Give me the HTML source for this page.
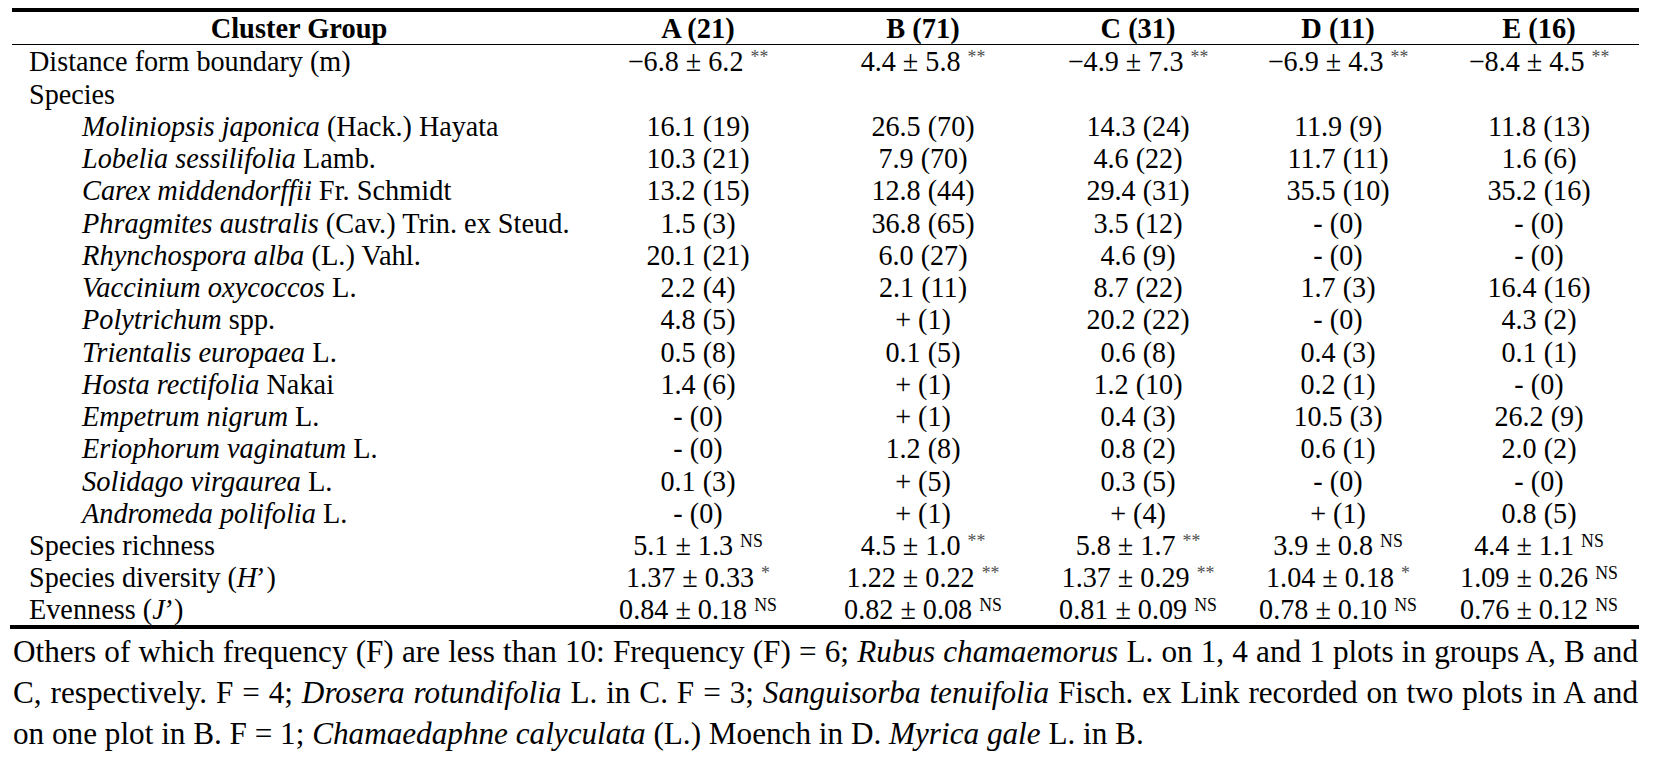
<!DOCTYPE html>
<html><head><meta charset="utf-8"><style>
html,body{margin:0;padding:0;background:#fff;}
body{width:1656px;height:758px;position:relative;overflow:hidden;font-family:"Liberation Serif",serif;color:#000;}
.r{position:absolute;white-space:nowrap;font-size:28.5px;line-height:32px;height:32px;transform:scaleX(0.9825);transform-origin:0 0;}
.c{position:absolute;white-space:nowrap;font-size:28.5px;line-height:32px;height:32px;width:300px;text-align:center;transform:scaleX(0.9875);transform-origin:50% 0;}
.c.h{transform:scaleX(0.997);}
.h{font-weight:bold;}
sup.ast{color:#505050;}
sup{font-size:18px;line-height:0;vertical-align:baseline;position:relative;top:-8px;}
.line{position:absolute;background:#000;}
.fn{position:absolute;left:13px;width:1625px;font-size:31.2px;line-height:41px;height:41px;white-space:nowrap;}
.j{text-align:justify;text-align-last:justify;white-space:normal;}
</style></head><body>

<div class="line" style="left:12px;top:8px;width:1627px;height:4px"></div>
<div class="line" style="left:12px;top:44px;width:1627px;height:1px"></div>
<div class="line" style="left:10px;top:625px;width:1629px;height:4px"></div>
<div class="c h" style="left:149.0px;top:13.0px">Cluster Group</div>
<div class="c h" style="left:548.0px;top:13.0px">A (21)</div>
<div class="c h" style="left:773.0px;top:13.0px">B (71)</div>
<div class="c h" style="left:988.0px;top:13.0px">C (31)</div>
<div class="c h" style="left:1188.0px;top:13.0px">D (11)</div>
<div class="c h" style="left:1388.5px;top:13.0px">E (16)</div>
<div class="r" style="left:29.0px;top:46.30px;transform:scaleX(0.9887)">Distance form boundary (m)</div>
<div class="c" style="left:548.0px;top:46.30px">−6.8 ± 6.2 <sup class="ast">**</sup></div>
<div class="c" style="left:773.0px;top:46.30px">4.4 ± 5.8 <sup class="ast">**</sup></div>
<div class="c" style="left:988.0px;top:46.30px">−4.9 ± 7.3 <sup class="ast">**</sup></div>
<div class="c" style="left:1188.0px;top:46.30px">−6.9 ± 4.3 <sup class="ast">**</sup></div>
<div class="c" style="left:1388.5px;top:46.30px">−8.4 ± 4.5 <sup class="ast">**</sup></div>
<div class="r" style="left:29.0px;top:78.55px;transform:scaleX(0.9884)">Species</div>
<div class="r" style="left:82.0px;top:110.80px;transform:scaleX(0.9853)"><i>Moliniopsis japonica</i> (Hack.) Hayata</div>
<div class="c" style="left:548.0px;top:110.80px">16.1 (19)</div>
<div class="c" style="left:773.0px;top:110.80px">26.5 (70)</div>
<div class="c" style="left:988.0px;top:110.80px">14.3 (24)</div>
<div class="c" style="left:1188.0px;top:110.80px">11.9 (9)</div>
<div class="c" style="left:1388.5px;top:110.80px">11.8 (13)</div>
<div class="r" style="left:82.0px;top:143.05px;transform:scaleX(0.9897)"><i>Lobelia sessilifolia</i> Lamb.</div>
<div class="c" style="left:548.0px;top:143.05px">10.3 (21)</div>
<div class="c" style="left:773.0px;top:143.05px">7.9 (70)</div>
<div class="c" style="left:988.0px;top:143.05px">4.6 (22)</div>
<div class="c" style="left:1188.0px;top:143.05px">11.7 (11)</div>
<div class="c" style="left:1388.5px;top:143.05px">1.6 (6)</div>
<div class="r" style="left:82.0px;top:175.30px;transform:scaleX(0.9952)"><i>Carex middendorffii</i> Fr. Schmidt</div>
<div class="c" style="left:548.0px;top:175.30px">13.2 (15)</div>
<div class="c" style="left:773.0px;top:175.30px">12.8 (44)</div>
<div class="c" style="left:988.0px;top:175.30px">29.4 (31)</div>
<div class="c" style="left:1188.0px;top:175.30px">35.5 (10)</div>
<div class="c" style="left:1388.5px;top:175.30px">35.2 (16)</div>
<div class="r" style="left:82.0px;top:207.55px;transform:scaleX(0.9936)"><i>Phragmites australis</i> (Cav.) Trin. ex Steud.</div>
<div class="c" style="left:548.0px;top:207.55px">1.5 (3)</div>
<div class="c" style="left:773.0px;top:207.55px">36.8 (65)</div>
<div class="c" style="left:988.0px;top:207.55px">3.5 (12)</div>
<div class="c" style="left:1188.0px;top:207.55px">- (0)</div>
<div class="c" style="left:1388.5px;top:207.55px">- (0)</div>
<div class="r" style="left:82.0px;top:239.80px;transform:scaleX(0.9995)"><i>Rhynchospora alba</i> (L.) Vahl.</div>
<div class="c" style="left:548.0px;top:239.80px">20.1 (21)</div>
<div class="c" style="left:773.0px;top:239.80px">6.0 (27)</div>
<div class="c" style="left:988.0px;top:239.80px">4.6 (9)</div>
<div class="c" style="left:1188.0px;top:239.80px">- (0)</div>
<div class="c" style="left:1388.5px;top:239.80px">- (0)</div>
<div class="r" style="left:82.0px;top:272.05px;transform:scaleX(0.9998)"><i>Vaccinium oxycoccos</i> L.</div>
<div class="c" style="left:548.0px;top:272.05px">2.2 (4)</div>
<div class="c" style="left:773.0px;top:272.05px">2.1 (11)</div>
<div class="c" style="left:988.0px;top:272.05px">8.7 (22)</div>
<div class="c" style="left:1188.0px;top:272.05px">1.7 (3)</div>
<div class="c" style="left:1388.5px;top:272.05px">16.4 (16)</div>
<div class="r" style="left:82.0px;top:304.30px;transform:scaleX(0.9919)"><i>Polytrichum</i> spp.</div>
<div class="c" style="left:548.0px;top:304.30px">4.8 (5)</div>
<div class="c" style="left:773.0px;top:304.30px">+ (1)</div>
<div class="c" style="left:988.0px;top:304.30px">20.2 (22)</div>
<div class="c" style="left:1188.0px;top:304.30px">- (0)</div>
<div class="c" style="left:1388.5px;top:304.30px">4.3 (2)</div>
<div class="r" style="left:82.0px;top:336.55px;transform:scaleX(1.0004)"><i>Trientalis europaea</i> L.</div>
<div class="c" style="left:548.0px;top:336.55px">0.5 (8)</div>
<div class="c" style="left:773.0px;top:336.55px">0.1 (5)</div>
<div class="c" style="left:988.0px;top:336.55px">0.6 (8)</div>
<div class="c" style="left:1188.0px;top:336.55px">0.4 (3)</div>
<div class="c" style="left:1388.5px;top:336.55px">0.1 (1)</div>
<div class="r" style="left:82.0px;top:368.80px;transform:scaleX(0.9928)"><i>Hosta rectifolia</i> Nakai</div>
<div class="c" style="left:548.0px;top:368.80px">1.4 (6)</div>
<div class="c" style="left:773.0px;top:368.80px">+ (1)</div>
<div class="c" style="left:988.0px;top:368.80px">1.2 (10)</div>
<div class="c" style="left:1188.0px;top:368.80px">0.2 (1)</div>
<div class="c" style="left:1388.5px;top:368.80px">- (0)</div>
<div class="r" style="left:82.0px;top:401.05px;transform:scaleX(0.9897)"><i>Empetrum nigrum</i> L.</div>
<div class="c" style="left:548.0px;top:401.05px">- (0)</div>
<div class="c" style="left:773.0px;top:401.05px">+ (1)</div>
<div class="c" style="left:988.0px;top:401.05px">0.4 (3)</div>
<div class="c" style="left:1188.0px;top:401.05px">10.5 (3)</div>
<div class="c" style="left:1388.5px;top:401.05px">26.2 (9)</div>
<div class="r" style="left:82.0px;top:433.30px;transform:scaleX(0.9903)"><i>Eriophorum vaginatum</i> L.</div>
<div class="c" style="left:548.0px;top:433.30px">- (0)</div>
<div class="c" style="left:773.0px;top:433.30px">1.2 (8)</div>
<div class="c" style="left:988.0px;top:433.30px">0.8 (2)</div>
<div class="c" style="left:1188.0px;top:433.30px">0.6 (1)</div>
<div class="c" style="left:1388.5px;top:433.30px">2.0 (2)</div>
<div class="r" style="left:82.0px;top:465.55px;transform:scaleX(1.0003)"><i>Solidago virgaurea</i> L.</div>
<div class="c" style="left:548.0px;top:465.55px">0.1 (3)</div>
<div class="c" style="left:773.0px;top:465.55px">+ (5)</div>
<div class="c" style="left:988.0px;top:465.55px">0.3 (5)</div>
<div class="c" style="left:1188.0px;top:465.55px">- (0)</div>
<div class="c" style="left:1388.5px;top:465.55px">- (0)</div>
<div class="r" style="left:82.0px;top:497.80px;transform:scaleX(0.9923)"><i>Andromeda polifolia</i> L.</div>
<div class="c" style="left:548.0px;top:497.80px">- (0)</div>
<div class="c" style="left:773.0px;top:497.80px">+ (1)</div>
<div class="c" style="left:988.0px;top:497.80px">+ (4)</div>
<div class="c" style="left:1188.0px;top:497.80px">+ (1)</div>
<div class="c" style="left:1388.5px;top:497.80px">0.8 (5)</div>
<div class="r" style="left:29.0px;top:530.05px;transform:scaleX(0.9911)">Species richness</div>
<div class="c" style="left:548.0px;top:530.05px">5.1 ± 1.3 <sup>NS</sup></div>
<div class="c" style="left:773.0px;top:530.05px">4.5 ± 1.0 <sup class="ast">**</sup></div>
<div class="c" style="left:988.0px;top:530.05px">5.8 ± 1.7 <sup class="ast">**</sup></div>
<div class="c" style="left:1188.0px;top:530.05px">3.9 ± 0.8 <sup>NS</sup></div>
<div class="c" style="left:1388.5px;top:530.05px">4.4 ± 1.1 <sup>NS</sup></div>
<div class="r" style="left:29.0px;top:562.30px;transform:scaleX(0.9873)">Species diversity (<i>H<span style="margin-left:-3px">’</span></i><span style="margin-left:3px">)</span></div>
<div class="c" style="left:548.0px;top:562.30px">1.37 ± 0.33 <sup class="ast">*</sup></div>
<div class="c" style="left:773.0px;top:562.30px">1.22 ± 0.22 <sup class="ast">**</sup></div>
<div class="c" style="left:988.0px;top:562.30px">1.37 ± 0.29 <sup class="ast">**</sup></div>
<div class="c" style="left:1188.0px;top:562.30px">1.04 ± 0.18 <sup class="ast">*</sup></div>
<div class="c" style="left:1388.5px;top:562.30px">1.09 ± 0.26 <sup>NS</sup></div>
<div class="r" style="left:29.0px;top:593.55px;transform:scaleX(0.9909)">Evenness (<i>J<span style="margin-left:-2px">’</span></i><span style="margin-left:2px">)</span></div>
<div class="c" style="left:548.0px;top:593.55px">0.84 ± 0.18 <sup>NS</sup></div>
<div class="c" style="left:773.0px;top:593.55px">0.82 ± 0.08 <sup>NS</sup></div>
<div class="c" style="left:988.0px;top:593.55px">0.81 ± 0.09 <sup>NS</sup></div>
<div class="c" style="left:1188.0px;top:593.55px">0.78 ± 0.10 <sup>NS</sup></div>
<div class="c" style="left:1388.5px;top:593.55px">0.76 ± 0.12 <sup>NS</sup></div>
<div class="fn j" style="top:631.0px">Others of which frequency (F) are less than 10: Frequency (F) = 6; <i>Rubus chamaemorus</i> L. on 1, 4 and 1 plots in groups A, B and</div>
<div class="fn j" style="top:672.0px">C, respectively. F = 4; <i>Drosera rotundifolia</i> L. in C. F = 3; <i>Sanguisorba tenuifolia</i> Fisch. ex Link recorded on two plots in A and</div>
<div class="fn" style="top:713.0px">on one plot in B. F = 1; <i>Chamaedaphne calyculata</i> (L.) Moench in D. <i>Myrica gale</i> L. in B.</div>
</body></html>
